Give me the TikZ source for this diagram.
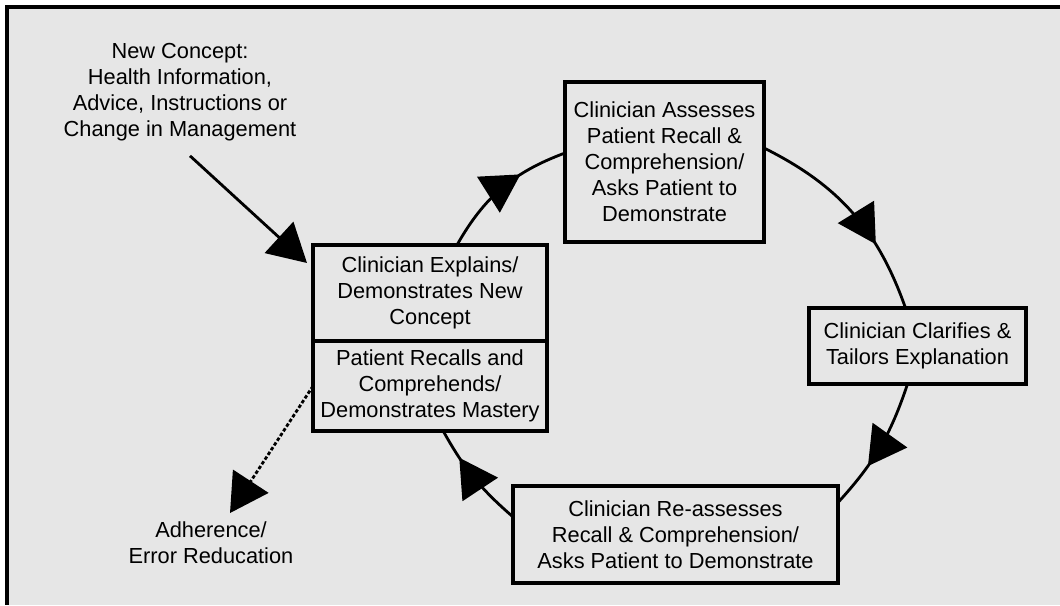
\documentclass[tikz,border=0pt]{standalone}
\usepackage{fontspec}
\setmainfont{Liberation Sans}
\usepackage{tikz}
\usetikzlibrary{arrows.meta, positioning, decorations.markings}
\definecolor{bggray}{HTML}{E6E6E6}
\tikzset{
    box_plain/.style={rectangle, draw, line width=2.2pt, outer sep=0pt, inner sep=2pt, align=center},
    arrow_main/.style={-{Triangle[length=0.95cm, width=1.05cm]}, line width=2pt},
    arrow_mid/.style={line width=2pt, postaction={decorate}, decoration={markings, mark=at position #1 with {\arrow{Triangle[length=0.95cm, width=1.05cm]}}}}
}

\begin{document}
\begin{tikzpicture}[every node/.style={font=\fontsize{15.5}{18.5}\selectfont}]
            % Frame
            \useasboundingbox (0,0) rectangle (26.5,-15.125);
            \fill[white] (0,0) rectangle (26.5,-15.125);
            \fill[bggray] (0.175,-0.175) rectangle (26.5,-15.125);
            \draw[line width=2.2pt] (26.5,-0.175) -- (0.175,-0.175) -- (0.175,-15.125);

            % Boxes
            \node (mainup) at (10.75,-7.325) [box_plain, minimum width=5.85cm, minimum height=2.4cm] {Clinician Explains/\\Demonstrates New\\Concept};
            \node (mainlo) [box_plain, below=0pt of mainup, minimum width=5.85cm, minimum height=2.25cm] {Patient Recalls and\\Comprehends/\\Demonstrates Mastery};
            \node (assess) at (16.6125,-4.05) [box_plain, minimum width=4.975cm, minimum height=4cm] {Clinician Assesses\\Patient Recall \&\\Comprehension/\\Asks Patient to\\Demonstrate};
            \node (clarify) at (22.9375,-8.65) [box_plain, minimum width=5.425cm, minimum height=1.9cm] {Clinician Clarifies \&\\Tailors Explanation};
            \node (reassess) at (16.8875,-13.3625) [box_plain, minimum width=8.125cm, minimum height=2.425cm] {Clinician Re-assesses\\Recall \& Comprehension/\\Asks Patient to Demonstrate};

            % Labels
            \node (newc) at (4.5,-2.3) [align=center] {New Concept:\\Health Information,\\Advice, Instructions or\\Change in Management};
            \node (adher) at (5.275,-13.575) [align=center] {Adherence/\\Error Reducation};

            % Arrows
            \draw[arrow_main] ([xshift=0.25cm,yshift=-0.25cm]newc.south) -- ([xshift=-0.15cm,yshift=-0.45cm]mainup.north west);
            \draw[arrow_mid=0.66] ([xshift=0.675cm]mainup.north) to[bend left=20] ([yshift=0.225cm]assess.west);
            \draw[arrow_mid=0.68] ([yshift=0.35cm]assess.east) to[bend left=22] ([xshift=-0.3cm]clarify.north);
            \draw[arrow_mid=0.66] ([xshift=-0.25cm]clarify.south) to[bend left=12] ([yshift=0.8cm]reassess.east);
            \draw[arrow_mid=0.72] ([yshift=0.44cm]reassess.west) to[bend left=10] ([xshift=0.33cm]mainlo.south);
            \draw[arrow_main, dash pattern=on 2.5pt off 1.5pt] (mainlo.west) -- ([xshift=0.475cm,yshift=0.1cm]adher.north);
\end{tikzpicture}
\end{document}
